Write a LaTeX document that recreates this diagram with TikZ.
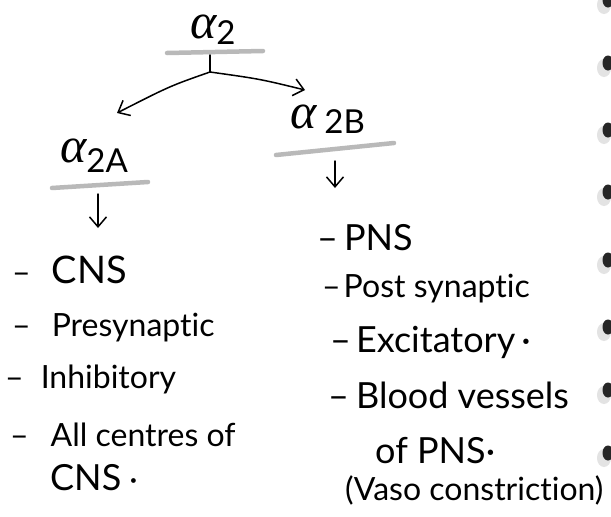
\documentclass[tikz,border=0pt]{standalone}
\usepackage{fontspec}
\setmainfont{Lato}[Ligatures=NoCommon]
\newfontfamily\greekit{Liberation Serif}
\usetikzlibrary{arrows.meta}
\newcommand\alphahead[3]{{\greekit\itshape\fontsize{50}{50}\selectfont α}\hspace{#3}\raisebox{-#2}{\fontsize{33}{33}\selectfont #1}}
\begin{document}
\begin{tikzpicture}[x=1pt,y=-1pt,
  item/.style={anchor=base west, inner sep=0pt, font=\fontsize{32}{34}\selectfont},
  wide/.style={item, font=\fontsize{36}{38}\selectfont},
  lbl/.style={anchor=base west, inner sep=0pt},
  uline/.style={line width=4.5pt, gray!55, line cap=round},
  pen/.style={line width=1.5pt, black, line cap=round},
  arr/.style={pen, -{Straight Barb[length=10pt,width=17pt,line width=1.5pt]}},
  hole/.style={fill=black!85},
  haze/.style={fill=gray!22}]
\useasboundingbox (0,0) rectangle (611,517);
\fill[white] (0,0) rectangle (611,517);

% binder holes along the right edge
\foreach \hy in {0,63,130,192,260,327,390,453}{
  \fill[haze] (604,\hy+5) ellipse (7 and 9);
  \fill[hole] (608,\hy) ellipse (5.5 and 7.5);
}

% headings
\node[lbl] (a2)  at (190,38)  {\alphahead{2}{6pt}{0pt}};
\node[lbl] (a2A) at (60,162)  {\alphahead{2A}{10pt}{0pt}};
\node[lbl] (a2B) at (290,128) {\alphahead{2B}{5pt}{8pt}};

% grey underlines
\draw[uline] (167,53) -- (263,51);
\draw[uline] (52,188) -- (148,182);
\draw[uline] (276,155) -- (394,143);

% branching
\coordinate (stem) at (210,55);
\coordinate (split) at (210,72);
\coordinate (leftend) at (117,113);
\coordinate (rightend) at (305,90);
\draw[pen] (stem) -- (split);
\draw[arr] (split) .. controls (170,86) .. (leftend);
\draw[arr] (split) .. controls (260,79) .. (rightend);

% down arrows
\coordinate (downAtop) at (98,194);
\coordinate (downAbot) at (98,228);
\coordinate (downBtop) at (335,161);
\coordinate (downBbot) at (335,188);
\draw[arr] (downAtop) -- (downAbot);
\draw[arr] (downBtop) -- (downBbot);

% left list
\node[item] (l1) at (12,283) {–\hspace{21pt}{\fontsize{38}{40}\selectfont CNS}};
\node[item] (l2) at (12,336) {–\hspace{21pt}Presynaptic};
\node[item] (l3) at (5,388)  {–\hspace{17pt}Inhibitory};
\node[item] (l4) at (10,446) {–\hspace{22pt}All centres of};
\node[item] (l5) at (50,490) {{\fontsize{36}{38}\selectfont CNS}\hspace{8pt}·};

% right list
\node[wide] (r1) at (317,250) {–\hspace{6pt}PNS};
\node[item] (r2) at (322,297) {–\hspace{3pt}Post synaptic};
\node[wide] (r3) at (330,352) {–\hspace{5pt}Excitatory\hspace{6pt}·};
\node[wide] (r4) at (328,408) {–\hspace{7pt}Blood vessels};
\node[wide] (r5) at (375,463) {of PNS·};
\node[item] (r6) at (345,500) {(Vaso constriction)};
\end{tikzpicture}
\end{document}
